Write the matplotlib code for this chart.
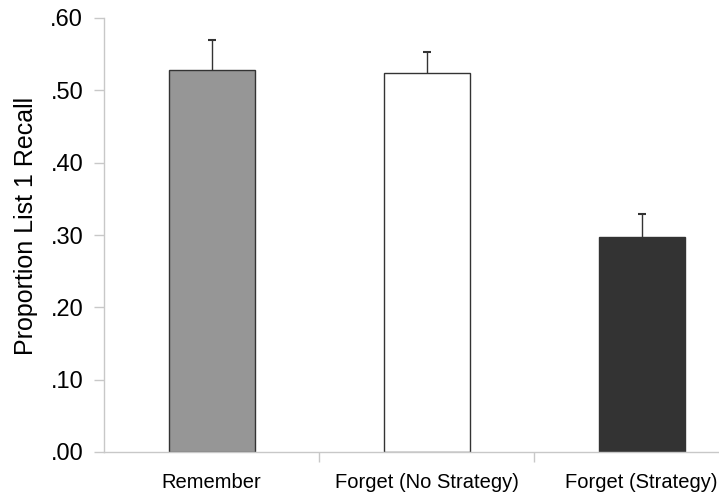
import matplotlib.pyplot as plt
import numpy as np

plt.rcParams['font.family'] = ['Liberation Sans', 'DejaVu Sans']

conditions = ["Remember", "Forget (No Strategy)", "Forget (Strategy)"]
recall = [0.528, 0.524, 0.297]
recall_se = [0.041, 0.029, 0.032]
bar_colors = ["#969696", "#ffffff", "#333333"]
y_ticks = [0.0, 0.1, 0.2, 0.3, 0.4, 0.5, 0.6]
y_tick_labels = [".00", ".10", ".20", ".30", ".40", ".50", ".60"]

fig = plt.figure(figsize=(7.19, 4.92), dpi=100)
ax = fig.add_axes([104 / 719, 40 / 492, 645 / 719, 434 / 492])

x = np.arange(len(conditions))
ax.bar(x, recall, width=0.4, color=bar_colors, edgecolor="#333333",
       linewidth=1.0, zorder=2)
# one-sided (upward) error bars, hide the lower caps
_, caps, _ = ax.errorbar(x, recall, yerr=[[0] * len(recall), recall_se],
                         fmt="none", ecolor="#333333", elinewidth=1.0,
                         capsize=3, capthick=1.5, zorder=3)
caps[0].set_visible(False)

ax.set_xlim(-0.5, 2.5)
ax.set_ylim(0, 0.6)
ax.set_yticks(y_ticks)
ax.set_yticklabels(y_tick_labels, fontsize=17)
ax.set_xticks(x)
ax.set_xticklabels(conditions, fontsize=14.5)
ax.set_xticks([0.5, 1.5], minor=True)
ax.tick_params(axis="x", which="major", length=0, pad=15)
ax.tick_params(axis="x", which="minor", length=7, color="#c8c8c8", width=1)
ax.tick_params(axis="y", length=7, color="#c8c8c8", width=1, pad=8)
ax.set_ylabel("Proportion List 1 Recall", fontsize=18)
ax.yaxis.set_label_coords(-0.103, 0.52)

for side in ["top", "right"]:
    ax.spines[side].set_visible(False)
for side in ["left", "bottom"]:
    ax.spines[side].set_color("#c8c8c8")
    ax.spines[side].set_linewidth(1)

fig.savefig("out.png", dpi=100)
